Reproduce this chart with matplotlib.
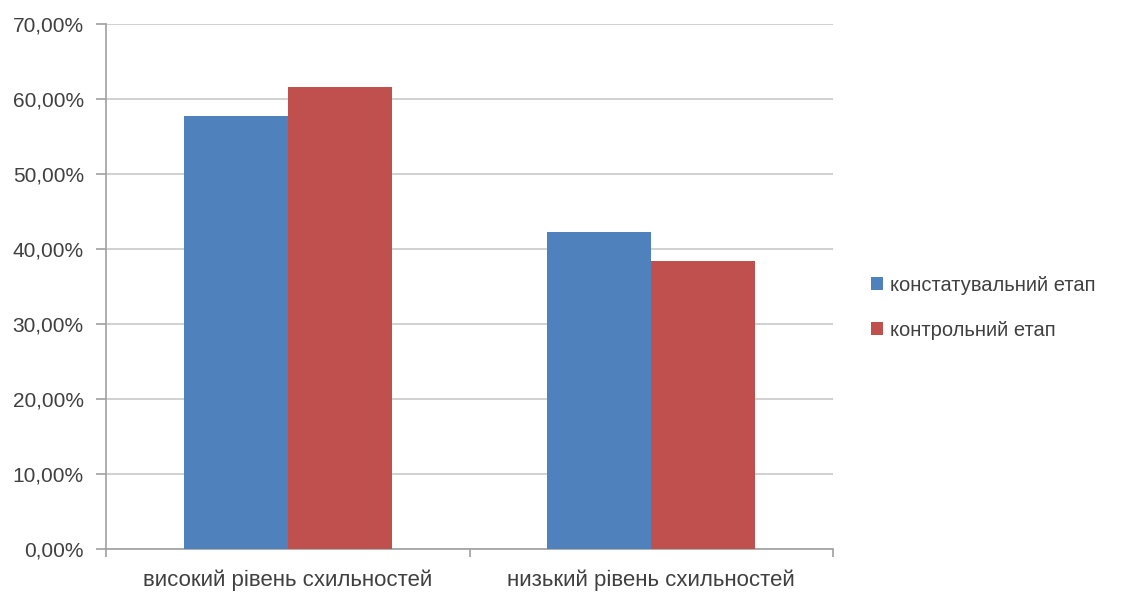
import numpy as np
import matplotlib
matplotlib.use("Agg")
import matplotlib.pyplot as plt
from matplotlib.ticker import FuncFormatter

categories = ["високий рівень схильностей", "низький рівень схильностей"]
series_names = ["констатувальний етап", "контрольний етап"]
stage1 = [57.7, 42.3]
stage2 = [61.6, 38.4]
colors = ["#4F81BD", "#C0504D"]

plt.rcParams['font.family'] = ['Liberation Sans', 'DejaVu Sans']

fig = plt.figure(figsize=(11.28, 5.92), dpi=100)
ax = fig.add_axes([0.094, 0.0726, 0.6445, 0.887])

x = np.arange(len(categories))
w = 0.286
ax.bar(x - w / 2, stage1, w, color=colors[0], label=series_names[0], zorder=3)
ax.bar(x + w / 2, stage2, w, color=colors[1], label=series_names[1], zorder=3)

ax.set_xlim(-0.5, 1.5)
ax.set_ylim(0, 70)
ax.set_yticks(np.arange(0, 71, 10))
ax.yaxis.set_major_formatter(FuncFormatter(lambda v, p: f"{v:.2f}%".replace(".", ",")))
ax.grid(axis="y", color="#C8C8C8", linewidth=1.2, zorder=0)

ax.set_xticks([-0.5, 0.5, 1.5], minor=False)
ax.set_xticklabels([])
ax.set_xticks(x, minor=True)
ax.set_xticklabels(categories, minor=True)
ax.tick_params(axis="x", which="major", length=6, color="#A0A0A0", width=1.2)
ax.tick_params(axis="x", which="minor", length=0, pad=15, labelsize=16, labelcolor="#404040")
ax.tick_params(axis="y", length=7, color="#A0A0A0", width=1.2, labelsize=15, labelcolor="#404040", pad=9)

for s in ["top", "right"]:
    ax.spines[s].set_visible(False)
for s in ["left", "bottom"]:
    ax.spines[s].set_color("#A0A0A0")
    ax.spines[s].set_linewidth(1.2)

leg = fig.legend(loc="center left", bbox_to_anchor=(0.772, 0.48), frameon=False,
                 borderpad=0, borderaxespad=0,
                 fontsize=14.5, handlelength=0.6, handleheight=0.6, handletextpad=0.35,
                 labelspacing=1.3, labelcolor="#404040")

fig.savefig("out.png", dpi=100)
